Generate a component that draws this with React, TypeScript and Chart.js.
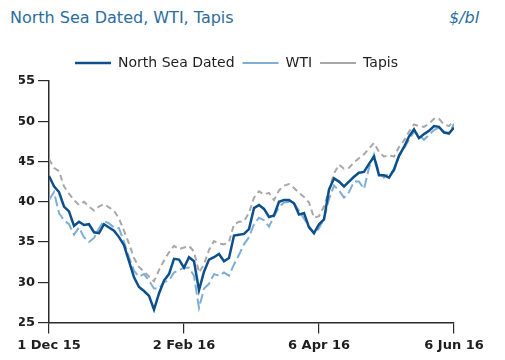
import React, { useEffect, useRef } from "react";
import { Chart, registerables } from "chart.js";

Chart.register(...registerables);

const seriesNames = ["North Sea Dated", "WTI", "Tapis"];
const tickLabels = ["1 Dec 15", "2 Feb 16", "6 Apr 16", "6 Jun 16"];
const tickIndex = [0, 27, 54, 81];

const northSeaDated = [
  43.2, 41.9, 41.2, 39.4, 38.8, 37.0, 37.5, 37.1, 37.2, 36.2,
  36.1, 37.2, 36.8, 36.4, 35.6, 34.6, 32.6, 30.6, 29.4, 28.9,
  28.3, 26.6, 28.6, 30.2, 31.0, 32.9, 32.8, 31.8, 33.1, 32.6,
  29.0, 31.3, 32.8, 33.1, 33.5, 32.6, 33.0, 35.8, 35.9, 36.0,
  36.6, 39.2, 39.6, 39.1, 38.1, 38.3, 40.0, 40.2, 40.2, 39.8,
  38.4, 38.6, 36.8, 36.1, 37.2, 37.8, 41.5, 42.9, 42.5, 41.9,
  42.5, 43.1, 43.6, 43.7, 44.7, 45.6, 43.3, 43.3, 43.0, 44.0,
  45.7, 46.8, 48.1, 49.0, 47.9, 48.4, 48.8, 49.4, 49.3, 48.6,
  48.5, 49.2,
];

const wti = [
  40.2, 41.2, 38.6, 37.7, 37.2, 35.9, 36.8, 35.6, 35.0, 35.5,
  36.7, 37.6, 37.3, 36.8, 36.7, 35.0, 33.1, 31.4, 30.7, 31.0,
  30.2, 29.2, 29.2, 30.0, 30.2, 31.2, 31.5, 31.8, 31.8, 30.8,
  26.8, 29.2, 29.8, 31.0, 30.8, 31.2, 30.8, 32.2, 33.4, 34.7,
  35.6, 37.2, 38.0, 37.7, 36.9, 38.2, 39.3, 39.9, 40.0, 39.8,
  38.9, 37.9, 37.0, 36.0, 36.7, 37.9, 40.3, 42.0, 41.4, 40.5,
  41.2, 42.5, 42.5, 41.6, 44.2, 45.9, 43.6, 43.0, 43.6, 43.8,
  45.7, 46.6, 47.7, 48.7, 48.3, 47.7, 48.3, 48.9, 49.2, 48.7,
  48.4, 49.7,
];

const tapis = [
  45.3, 44.2, 43.8, 41.9, 41.0, 40.2, 39.6, 40.0, 39.4, 38.9,
  39.4, 39.7, 39.3, 38.9, 37.9, 36.4, 34.8, 33.0, 31.9, 31.3,
  30.7, 30.1, 31.5, 32.7, 33.7, 34.5, 34.1, 34.3, 34.5, 33.8,
  31.2, 32.2, 34.0, 35.1, 34.8, 34.7, 35.0, 37.2, 37.5, 37.6,
  38.6, 40.5, 41.3, 40.9, 41.1, 40.2, 41.4, 42.0, 42.2, 41.7,
  41.1, 40.6, 39.9, 38.0, 38.2, 39.4, 41.4, 43.5, 44.6, 44.1,
  44.2, 44.9, 45.4, 45.9, 46.6, 47.3, 46.2, 45.6, 45.8, 45.6,
  46.8, 47.6, 48.7, 49.6, 49.4, 49.3, 49.7, 50.3, 50.3, 49.6,
  49.4, 50.1,
];

const FAMILY = "'DejaVu Sans', 'Verdana', sans-serif";
const TITLE_COLOR = "#2b6c9c";
const TEXT_COLOR = "#1e1e1e";
const AXIS_COLOR = "#2a2a2a";
const LEGEND_HEIGHT = 33;

const toPoints = (arr: number[]) => arr.map((v, i) => ({ x: i, y: v }));

const legendHeightPlugin = {
  id: "legendHeight",
  beforeInit(chart: any) {
    const legend = chart.legend;
    if (legend && !legend.__patched) {
      const orig = legend.fit.bind(legend);
      legend.fit = function () {
        orig();
        this.height = LEGEND_HEIGHT;
      };
      legend.__patched = true;
    }
  },
};

export default function App() {
  const canvasRef = useRef<HTMLCanvasElement | null>(null);

  useEffect(() => {
    if (!canvasRef.current) return;
    const chart = new Chart(canvasRef.current, {
      type: "line",
      data: {
        datasets: [
          {
            label: seriesNames[0],
            data: toPoints(northSeaDated),
            borderColor: "#0d4f8b",
            backgroundColor: "#0d4f8b",
            borderWidth: 2.5,
            pointRadius: 0,
            tension: 0,
            fill: false,
          },
          {
            label: seriesNames[1],
            data: toPoints(wti),
            borderColor: "#7eaed6",
            backgroundColor: "#7eaed6",
            borderWidth: 2,
            borderDash: [10, 4],
            pointRadius: 0,
            tension: 0,
            fill: false,
          },
          {
            label: seriesNames[2],
            data: toPoints(tapis),
            borderColor: "#a8a8a8",
            backgroundColor: "#a8a8a8",
            borderWidth: 2,
            borderDash: [6, 4],
            pointRadius: 0,
            tension: 0,
            fill: false,
          },
        ],
      },
      plugins: [legendHeightPlugin],
      options: {
        animation: false,
        responsive: false,
        maintainAspectRatio: false,
        layout: { padding: { left: 11, right: 42, top: 0, bottom: 0 } },
        plugins: {
          title: { display: false },
          tooltip: { enabled: false },
          legend: {
            display: true,
            position: "top",
            align: "center",
            labels: {
              usePointStyle: true,
              pointStyle: "line",
              pointStyleWidth: 36,
              padding: 8,
              color: TEXT_COLOR,
              font: { family: FAMILY, size: 14 },
            },
          },
        },
        scales: {
          x: {
            type: "linear",
            min: 0,
            max: 81,
            afterBuildTicks: (scale: any) => {
              scale.ticks = tickIndex.map((v) => ({ value: v }));
            },
            ticks: {
              autoSkip: false,
              maxRotation: 0,
              padding: 4,
              color: TEXT_COLOR,
              font: { family: FAMILY, size: 13, weight: "bold" },
              callback: (v: any) => {
                const k = tickIndex.indexOf(Number(v));
                return k >= 0 ? tickLabels[k] : "";
              },
            },
            grid: {
              drawOnChartArea: false,
              drawTicks: true,
              tickLength: 11,
              color: AXIS_COLOR,
              lineWidth: 1.2,
            },
            border: { color: AXIS_COLOR, width: 1.5 },
          },
          y: {
            min: 25,
            max: 55,
            afterFit: (scale: any) => {
              scale.width = 30;
            },
            ticks: {
              stepSize: 5,
              padding: 3,
              color: TEXT_COLOR,
              font: { family: FAMILY, size: 13, weight: "bold" },
            },
            grid: {
              drawOnChartArea: false,
              drawTicks: true,
              tickLength: 11,
              color: AXIS_COLOR,
              lineWidth: 1.2,
            },
            border: { color: AXIS_COLOR, width: 1.5 },
          },
        },
      },
    } as any);
    return () => chart.destroy();
  }, []);

  return (
    <div style={{ position: "relative", width: 489, height: 352 }}>
      <div
        style={{
          position: "absolute",
          left: 2,
          top: 1.5,
          fontFamily: FAMILY,
          fontSize: 16,
          lineHeight: "16px",
          color: TITLE_COLOR,
          whiteSpace: "nowrap",
        }}
      >
        North Sea Dated, WTI, Tapis
      </div>
      <div
        style={{
          position: "absolute",
          left: 441,
          top: 1.5,
          fontFamily: FAMILY,
          fontSize: 16,
          lineHeight: "16px",
          fontStyle: "italic",
          color: TITLE_COLOR,
          whiteSpace: "nowrap",
        }}
      >
        $/bl
      </div>
      <div style={{ position: "absolute", left: 0, top: 40, width: 488, height: 309 }}>
        <canvas ref={canvasRef} width={488} height={309} style={{ width: 488, height: 309 }} />
      </div>
    </div>
  );
}
